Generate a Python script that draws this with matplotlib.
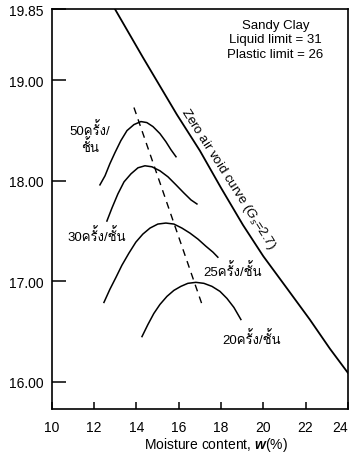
import matplotlib
matplotlib.use("Agg")
import matplotlib.pyplot as plt
from matplotlib import font_manager

# look for any font that can draw Thai, fall back to DejaVu otherwise
thai = [f.name for f in font_manager.fontManager.ttflist
        if any(k in f.name for k in ("Thai", "Garuda", "Loma", "Waree", "Tlwg", "Kinnari", "Norasi", "Sarabun"))]
families = ["Liberation Sans"] + thai[:1] + ["DejaVu Sans"]
plt.rcParams["font.family"] = families
plt.rcParams["mathtext.fontset"] = "custom"
plt.rcParams["mathtext.rm"] = "Liberation Sans"
plt.rcParams["mathtext.it"] = "Liberation Sans:italic"
plt.rcParams["mathtext.bf"] = "Liberation Sans:bold:italic"

# compaction curves (moisture %, dry unit weight)
w50 = [12.27, 12.51, 12.74, 12.98, 13.26, 13.55, 13.88, 14.21, 14.49, 14.78, 15.11, 15.39, 15.63, 15.87]
g50 = [17.96, 18.05, 18.17, 18.28, 18.40, 18.50, 18.56, 18.59, 18.58, 18.54, 18.47, 18.39, 18.31, 18.24]
w30 = [12.60, 12.84, 13.12, 13.41, 13.74, 14.07, 14.40, 14.73, 15.11, 15.49, 15.87, 16.24, 16.58, 16.86]
g30 = [17.60, 17.73, 17.87, 17.99, 18.07, 18.13, 18.15, 18.14, 18.10, 18.04, 17.96, 17.88, 17.81, 17.77]
w25 = [12.46, 12.74, 13.03, 13.31, 13.64, 13.97, 14.30, 14.64, 15.01, 15.39, 15.77, 16.15, 16.53, 16.91,
       17.28, 17.62, 17.85]
g25 = [16.79, 16.92, 17.04, 17.16, 17.28, 17.39, 17.47, 17.53, 17.57, 17.58, 17.57, 17.53, 17.48, 17.42,
       17.35, 17.29, 17.24]
w20 = [14.26, 14.54, 14.82, 15.11, 15.44, 15.77, 16.10, 16.43, 16.81, 17.19, 17.57, 17.95, 18.28, 18.61, 18.94]
g20 = [16.45, 16.57, 16.68, 16.77, 16.85, 16.91, 16.95, 16.98, 16.99, 16.98, 16.95, 16.90, 16.83, 16.74, 16.62]

# line of optimums
w_opt = [13.88, 17.10]
g_opt = [18.73, 16.77]

# zero air void curve
w_zav = [12.98, 14.30, 15.91, 17.00, 18.00, 19.04, 20.00, 21.12, 22.20, 23.15, 24.00]
g_zav = [19.71, 19.23, 18.66, 18.30, 17.93, 17.56, 17.25, 16.93, 16.62, 16.33, 16.09]

labels = ["50ครั้ง/\nชั้น", "30ครั้ง/ชั้น", "25ครั้ง/ชั้น", "20ครั้ง/ชั้น"]
label_pos = [(11.8, 18.43), (12.13, 17.46), (18.56, 17.11), (19.46, 16.44)]

yticks = [16, 17, 18, 19, 19.71]
yticklabels = ["16.00", "17.00", "18.00", "19.00", "19.85"]
xticks = [10, 12, 14, 16, 18, 20, 22, 24]

fig = plt.figure(figsize=(3.51, 4.56), dpi=100)
ax = fig.add_axes([0.148, 0.101, 0.843, 0.877])

for w, g in [(w50, g50), (w30, g30), (w25, g25), (w20, g20)]:
    ax.plot(w, g, color="black", lw=1.1, solid_joinstyle="round")
ax.plot(w_opt, g_opt, color="black", lw=1.0, dashes=(5, 4))
ax.plot(w_zav, g_zav, color="black", lw=1.3, solid_joinstyle="round")

for txt, (x, y) in zip(labels, label_pos):
    ax.text(x, y, txt, ha="center", va="center", fontsize=9.5, linespacing=1.1)

ax.text(18.36, 18.03, r"Zero air void curve ($G_s$=2.7)", rotation=-57.4,
        rotation_mode="anchor", ha="center", va="center", fontsize=9.5)
ax.text(0.755, 0.975, "Sandy Clay\nLiquid limit = 31\nPlastic limit = 26",
        transform=ax.transAxes, ha="center", va="top", fontsize=9.5, linespacing=1.25)

ax.set_xlim(10, 24)
ax.set_ylim(15.73, 19.71)
ax.set_xticks(xticks)
ax.set_xticklabels([str(t) for t in xticks])
ax.get_xticklabels()[-1].set_ha("right")
ax.set_yticks(yticks)
ax.set_yticklabels(yticklabels)
ax.tick_params(axis="x", direction="in", length=5, width=1.1, pad=8, labelsize=10)
ax.tick_params(axis="y", direction="in", length=10, width=1.1, pad=6, labelsize=10)
for s in ax.spines.values():
    s.set_linewidth(1.2)

ax.set_xlabel(r"Moisture content, $\mathbf{w}$(%)", fontsize=10, labelpad=6)
ax.xaxis.set_label_coords(0.554, -0.065)

plt.savefig("out.png", dpi=100)
